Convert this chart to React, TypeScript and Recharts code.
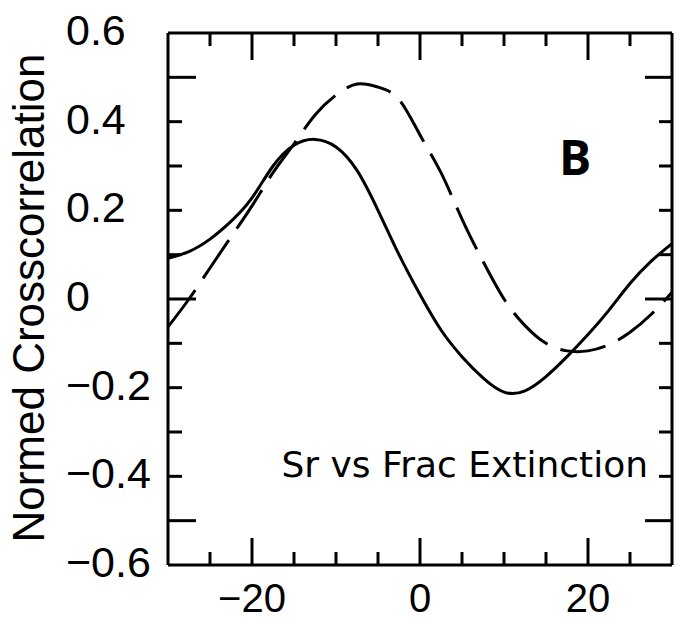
import React from "react";
import { LineChart, Line, XAxis, YAxis } from "recharts";

// lag values and the two crosscorrelation curves
const LAG = [
  -30, -27.5, -25, -22.5, -20, -17.5, -15, -12.5, -10, -7.5, -5, -2.5, 0, 2.5,
  5, 7.5, 10, 12.5, 15, 17.5, 20, 22.5, 25, 27.5, 30,
];
const SOLID = [
  0.092, 0.107, 0.135, 0.175, 0.228, 0.3, 0.347, 0.36, 0.343, 0.29, 0.2, 0.1,
  0.01, -0.07, -0.13, -0.178, -0.21, -0.207, -0.175, -0.13, -0.08, -0.025,
  0.035, 0.085, 0.125,
];
const DASHED = [
  -0.063, 0.0, 0.07, 0.14, 0.21, 0.285, 0.35, 0.415, 0.46, 0.485, 0.478, 0.45,
  0.37, 0.285, 0.18, 0.085, 0.0, -0.06, -0.1, -0.117, -0.117, -0.103, -0.075,
  -0.035, 0.015,
];

const X_TICKS = [-25, -20, -15, -10, -5, 0, 5, 10, 15, 20, 25];
const X_MAJOR = [-20, 0, 20];
const X_LABELS = ["−20", "0", "20"];
const Y_TICKS = [
  -0.6, -0.5, -0.4, -0.3, -0.2, -0.1, 0, 0.1, 0.2, 0.3, 0.4, 0.5, 0.6,
];
const Y_MAJOR = [-0.5, 0, 0.5];
const Y_LABEL_VALUES = [-0.6, -0.4, -0.2, 0, 0.2, 0.4, 0.6];
const Y_LABELS = ["−0.6", "−0.4", "−0.2", "0", "0.2", "0.4", "0.6"];

const data = LAG.map((lag, i) => ({ lag, solid: SOLID[i], dashed: DASHED[i] }));

const FONT = "'Liberation Sans', Arial, sans-serif";
const near = (a: number, b: number) => Math.abs(a - b) < 1e-6;

function LeftTick(props: any) {
  const { x, y, payload } = props;
  const v = payload.value;
  const len = Y_MAJOR.some((m) => near(m, v)) ? 28 : 14;
  const li = Y_LABEL_VALUES.findIndex((m) => near(m, v));
  const edge = Math.abs(v) > 0.55;
  return (
    <g>
      {!edge && (
        <line x1={x} x2={x + len} y1={y} y2={y} stroke="#000" strokeWidth={3} />
      )}
      {li >= 0 && (
        <text
          x={x - 102}
          y={y - 3}
          dominantBaseline="central"
          textAnchor="start"
          fontFamily={FONT}
          fontSize={43}
          fill="#000"
        >
          {Y_LABELS[li]}
        </text>
      )}
    </g>
  );
}

function RightTick(props: any) {
  const { x, y, payload } = props;
  const v = payload.value;
  if (Math.abs(v) > 0.55) return <g />;
  const len = Y_MAJOR.some((m) => near(m, v)) ? 27 : 13;
  return <line x1={x} x2={x - len} y1={y} y2={y} stroke="#000" strokeWidth={3} />;
}

function BottomTick(props: any) {
  const { x, y, payload } = props;
  const v = payload.value;
  const mi = X_MAJOR.indexOf(v);
  const len = mi >= 0 ? 27 : 13;
  return (
    <g>
      <line x1={x} x2={x} y1={y} y2={y - len} stroke="#000" strokeWidth={3} />
      {mi >= 0 && (
        <text
          x={x}
          y={y + 33}
          dominantBaseline="central"
          textAnchor="middle"
          fontFamily={FONT}
          fontSize={40}
          fill="#000"
        >
          {X_LABELS[mi]}
        </text>
      )}
    </g>
  );
}

function TopTick(props: any) {
  const { x, y, payload } = props;
  const len = X_MAJOR.includes(payload.value) ? 27 : 13;
  return <line x1={x} x2={x} y1={y} y2={y + len} stroke="#000" strokeWidth={3} />;
}

export default function App() {
  return (
    <div
      style={{
        position: "absolute",
        top: 0,
        left: 0,
        width: 676,
        height: 622,
        background: "#fff",
      }}
    >
      <LineChart
        width={676}
        height={622}
        data={data}
        margin={{ top: 32, right: 3, bottom: 0, left: 68 }}
      >
        <XAxis
          xAxisId="b"
          dataKey="lag"
          type="number"
          domain={[-30, 30]}
          ticks={X_TICKS}
          height={57}
          tickLine={false}
          tickSize={0}
          tickMargin={0}
          axisLine={{ stroke: "#000", strokeWidth: 3 }}
          tick={<BottomTick />}
          interval={0}
          allowDataOverflow
        />
        <XAxis
          xAxisId="t"
          orientation="top"
          dataKey="lag"
          type="number"
          domain={[-30, 30]}
          ticks={X_TICKS}
          height={1}
          tickLine={false}
          tickSize={0}
          tickMargin={0}
          axisLine={{ stroke: "#000", strokeWidth: 3 }}
          tick={<TopTick />}
          interval={0}
          allowDataOverflow
        />
        <YAxis
          yAxisId="l"
          type="number"
          domain={[-0.6, 0.6]}
          ticks={Y_TICKS}
          width={100}
          tickLine={false}
          tickSize={0}
          tickMargin={0}
          axisLine={{ stroke: "#000", strokeWidth: 3 }}
          tick={<LeftTick />}
          interval={0}
          allowDataOverflow
        />
        <YAxis
          yAxisId="r"
          orientation="right"
          type="number"
          domain={[-0.6, 0.6]}
          ticks={Y_TICKS}
          width={1}
          tickLine={false}
          tickSize={0}
          tickMargin={0}
          axisLine={{ stroke: "#000", strokeWidth: 3 }}
          tick={<RightTick />}
          interval={0}
          allowDataOverflow
        />
        <Line
          xAxisId="b"
          yAxisId="l"
          dataKey="dashed"
          type="natural"
          stroke="#000"
          strokeWidth={3}
          strokeDasharray="46 14"
          dot={false}
          isAnimationActive={false}
        />
        <Line
          xAxisId="b"
          yAxisId="l"
          dataKey="solid"
          type="natural"
          stroke="#000"
          strokeWidth={3}
          dot={false}
          isAnimationActive={false}
        />
        <text
          x={28}
          y={298}
          transform="rotate(-90 28 298)"
          textAnchor="middle"
          dominantBaseline="central"
          fontFamily={FONT}
          fontSize={44}
          fill="#000"
        >
          Normed Crosscorrelation
        </text>
        <text
          x={575}
          y={175}
          textAnchor="middle"
          fontFamily="'Open Sans', sans-serif"
          fontWeight="bold"
          fontSize={48}
          fill="#000"
        >
          B
        </text>
        <text
          x={648}
          y={477}
          textAnchor="end"
          fontFamily="'DejaVu Sans', sans-serif"
          fontSize={36}
          fill="#000"
        >
          Sr vs Frac Extinction
        </text>
      </LineChart>
    </div>
  );
}
